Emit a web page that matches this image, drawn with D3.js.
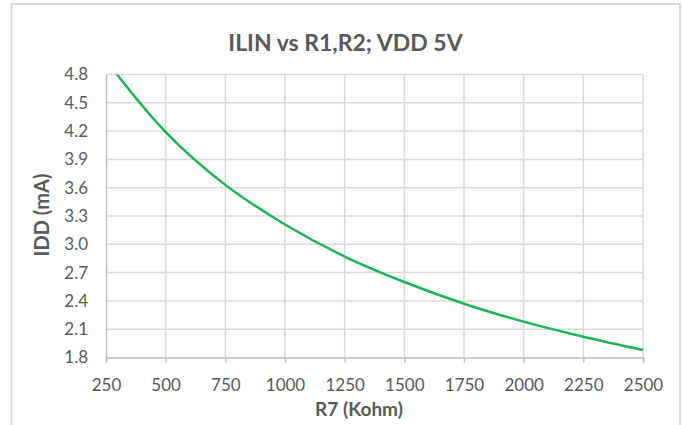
<!DOCTYPE html>
<html><head><meta charset="utf-8">
<script src="https://cdn.jsdelivr.net/npm/d3@7"></script>
<style>
html,body{margin:0;padding:0;background:#fff;}
svg{display:block;}
text{font-family:Lato, "Noto Sans", sans-serif;}
</style></head>
<body>
<svg id="c" width="683" height="425"></svg>
<script>
const title = "ILIN vs R1,R2; VDD 5V";
const xTitle = "R7 (Kohm)";
const yTitle = "IDD (mA)";
const r7 = [250, 500, 750, 1000, 1250, 1500, 1750, 2000, 2250, 2500];
const idd = [4.95, 4.19, 3.63, 3.21, 2.87, 2.60, 2.37, 2.18, 2.02, 1.88];
const xTicks = [250, 500, 750, 1000, 1250, 1500, 1750, 2000, 2250, 2500];
const yTicks = [1.8, 2.1, 2.4, 2.7, 3.0, 3.3, 3.6, 3.9, 4.2, 4.5, 4.8];

const svg = d3.select("#c");
const L = 106, R = 643, T = 74.5, B = 357.5;
const x = d3.scaleLinear().domain([250, 2500]).range([L, R]);
const y = d3.scaleLinear().domain([1.8, 4.8]).range([B, T]);

// outer frame
svg.append("rect").attr("x", 11.5).attr("y", 4).attr("width", 668.5).attr("height", 440)
  .attr("fill", "none").attr("stroke", "#d9d9d9").attr("stroke-width", 2);

// gridlines
svg.append("g").selectAll("line").data(yTicks.slice(1)).join("line")
  .attr("x1", L).attr("x2", R).attr("y1", d => y(d)).attr("y2", d => y(d))
  .attr("stroke", "#d9d9d9").attr("stroke-width", 1.5);
svg.append("g").selectAll("line").data(xTicks.slice(1)).join("line")
  .attr("x1", d => x(d)).attr("x2", d => x(d)).attr("y1", T).attr("y2", B)
  .attr("stroke", "#d9d9d9").attr("stroke-width", 1.5);

// axes
const xAxis = svg.append("g").attr("transform", `translate(0,${B})`)
  .call(d3.axisBottom(x).tickValues(xTicks).tickSize(5).tickPadding(16).tickFormat(d3.format("d")));
xAxis.select(".domain").attr("stroke", "#bfbfbf").attr("stroke-width", 1.5);
xAxis.selectAll(".tick line").attr("stroke", "#bfbfbf").attr("stroke-width", 1.5);
xAxis.selectAll("text").attr("fill", "#595959").style("font-size", "17px").style("font-family", "Lato");

const yAxis = svg.append("g").attr("transform", `translate(${L},0)`)
  .call(d3.axisLeft(y).tickValues(yTicks).tickSize(0).tickPadding(18).tickFormat(d3.format(".1f")));
yAxis.select(".domain").attr("stroke", "#bfbfbf").attr("stroke-width", 1.5);
yAxis.selectAll("text").attr("fill", "#595959").style("font-size", "17px").style("font-family", "Lato");

// clip
svg.append("clipPath").attr("id", "clip").append("rect")
  .attr("x", L).attr("y", T).attr("width", R - L).attr("height", B - T);

const line = d3.line().x((d, i) => x(r7[i])).y(d => y(d)).curve(d3.curveCatmullRom.alpha(0.5));
svg.append("path").datum(idd).attr("d", line).attr("clip-path", "url(#clip)")
  .attr("fill", "none").attr("stroke", "#1db356").attr("stroke-width", 2.5);

// titles
svg.append("text").attr("x", 345.5).attr("y", 51).attr("text-anchor", "middle")
  .attr("fill", "#595959").style("font-size", "23px").style("font-weight", "bold").text(title);
svg.append("text").attr("x", 359).attr("y", 416).attr("text-anchor", "middle")
  .attr("fill", "#595959").style("font-size", "19px").style("font-weight", "bold").text(xTitle);
svg.append("text").attr("transform", "translate(49,215) rotate(-90)").attr("text-anchor", "middle")
  .attr("fill", "#595959").style("font-size", "20px").style("font-weight", "bold").text(yTitle);
</script>
</body></html>
